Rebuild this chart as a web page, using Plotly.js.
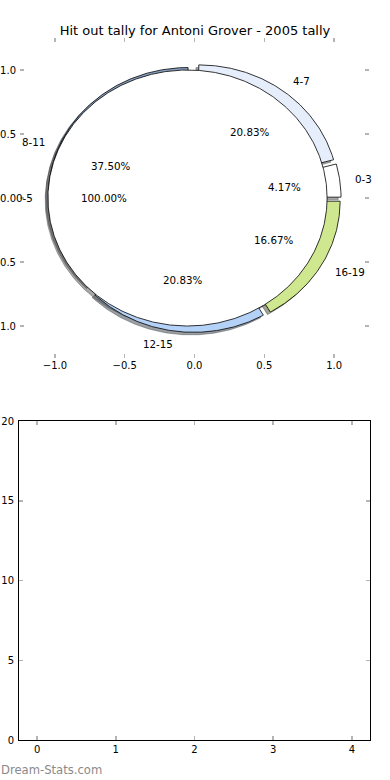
<!DOCTYPE html>
<html><head><meta charset="utf-8">
<script src="https://cdn.plot.ly/plotly-3.0.1.min.js"></script>
<style>html,body{margin:0;padding:0;background:#fff}#chart{width:390px;height:780px}</style>
</head><body><div id="chart"></div>
<script>
// ---- data ----
const ringLabels = ['4-7', '0-3', '16-19', '12-15', '8-11'];
const ringValues = [20.83, 4.17, 16.67, 20.83, 37.50];
const ringColors = ['#e6eefc', '#ffffff', '#cfe890', '#b4d2f8', '#8aa0c0'];
const innerLabels = ['0-5'];
const innerValues = [100.00];
const innerColors = ['#ffffff'];
const pieTicks = [-1, -0.5, 0, 0.5, 1];
const barXTicks = [0, 1, 2, 3, 4];
const barYTicks = [0, 5, 10, 15, 20];
const titleText = 'Hit out tally for Antoni Grover - 2005 tally';
const watermark = 'Dream-Stats.com';

// ---- pie geometry (matplotlib style) ----
function wedges(values, startangle, counterclock, explode) {
  const tot = values.reduce((a, b) => a + b, 0);
  let t = startangle;
  return values.map(v => {
    const span = 360 * v / tot * (counterclock ? 1 : -1);
    const t1 = t, t2 = t + span;
    t = t2;
    const mid = (t1 + t2) / 2 * Math.PI / 180;
    return {t1, t2, mid, cx: explode * Math.cos(mid), cy: explode * Math.sin(mid)};
  });
}
function poly(w, dx, dy) {
  const xs = [], ys = [];
  const full = Math.abs(w.t2 - w.t1) >= 359.999;
  const n = Math.max(8, Math.ceil(Math.abs(w.t2 - w.t1) / 0.5));
  if (!full) { xs.push(w.cx + dx); ys.push(w.cy + dy); }
  for (let i = 0; i <= n; i++) {
    const a = (w.t1 + (w.t2 - w.t1) * i / n) * Math.PI / 180;
    xs.push(w.cx + dx + Math.cos(a)); ys.push(w.cy + dy + Math.sin(a));
  }
  if (!full) { xs.push(w.cx + dx); ys.push(w.cy + dy); }
  return {xs, ys};
}
function shade(hex) {
  const r = parseInt(hex.slice(1, 3), 16), g = parseInt(hex.slice(3, 5), 16), b = parseInt(hex.slice(5, 7), 16);
  return 'rgba(' + Math.round(r * 0.3) + ',' + Math.round(g * 0.3) + ',' + Math.round(b * 0.3) + ',0.5)';
}

const ringW = wedges(ringValues, 90, false, 0.05);
const innerW = wedges(innerValues, 0, true, 0.05);

const traces = [];
function addShadows(ws, cols) {
  ws.forEach((w, i) => {
    const p = poly(w, -0.02, -0.02);
    traces.push({type: 'scatter', mode: 'lines', x: p.xs, y: p.ys, fill: 'toself',
      fillcolor: shade(cols[i]), line: {color: shade(cols[i]), width: 0.8},
      hoverinfo: 'skip', showlegend: false, xaxis: 'x', yaxis: 'y'});
  });
}
function addWedges(ws, cols) {
  ws.forEach((w, i) => {
    const p = poly(w, 0, 0);
    traces.push({type: 'scatter', mode: 'lines', x: p.xs, y: p.ys, fill: 'toself',
      fillcolor: cols[i], line: {color: '#000', width: 0.8},
      hoverinfo: 'skip', showlegend: false, xaxis: 'x', yaxis: 'y'});
  });
}
addShadows(ringW, ringColors);
addShadows(innerW, innerColors);
addWedges(ringW, ringColors);
addWedges(innerW, innerColors);
traces.push({type: 'scatter', x: [], y: [], xaxis: 'x2', yaxis: 'y2', showlegend: false, hoverinfo: 'skip'});

const font = 'DejaVu Sans, sans-serif';
const annotations = [];
function addLabels(ws, labels, values) {
  ws.forEach((w, i) => {
    const lx = w.cx + 1.1 * Math.cos(w.mid), ly = w.cy + 1.1 * Math.sin(w.mid);
    annotations.push({x: lx, y: ly, xref: 'x', yref: 'y', text: labels[i], showarrow: false,
      xanchor: lx > 0 ? 'left' : 'right', yanchor: 'middle', borderpad: 0,
      font: {family: font, size: 10.3, color: '#000'}});
    const px = w.cx + 0.6 * Math.cos(w.mid), py = w.cy + 0.6 * Math.sin(w.mid);
    annotations.push({x: px, y: py, xref: 'x', yref: 'y', text: values[i].toFixed(2) + '%', showarrow: false,
      xanchor: 'center', yanchor: 'middle', borderpad: 0,
      font: {family: font, size: 10.3, color: '#000'}});
  });
}
addLabels(ringW, ringLabels, ringValues);
addLabels(innerW, innerLabels, innerValues);
annotations.push({x: 0, y: 1 - 770 / 780, xref: 'paper', yref: 'paper', text: watermark, showarrow: false,
  xanchor: 'left', yanchor: 'middle', borderpad: 0, font: {family: font, size: 11.6, color: '#8a8a8a'}});

const tickFont = {family: font, size: 10, color: '#000'};
const common = {ticks: 'inside', ticklen: 4, tickwidth: 1.5, tickcolor: '#b4b4b4', showgrid: false,
  zeroline: false, automargin: false, tickfont: tickFont, fixedrange: true};

const layout = {
  width: 390, height: 780,
  margin: {l: 0, r: 0, t: 0, b: 0},
  paper_bgcolor: '#fff', plot_bgcolor: 'rgba(0,0,0,0)',
  showlegend: false,
  title: {text: titleText, x: 0.5, xref: 'paper', xanchor: 'center', y: 1 - 30 / 780, yanchor: 'middle',
    font: {family: font, size: 13, color: '#000'}},
  xaxis: Object.assign({}, common, {domain: [20 / 390, 369 / 390], range: [-1.25, 1.25], anchor: 'y',
    tickvals: pieTicks, tickformat: '.1f', showline: false, mirror: 'ticks'}),
  yaxis: Object.assign({}, common, {domain: [1 - 358 / 780, 1 - 38 / 780], range: [-1.25, 1.25], anchor: 'x',
    tickvals: pieTicks, tickformat: '.1f', showline: false, mirror: 'ticks', ticklabelstandoff: 3}),
  xaxis2: Object.assign({}, common, {domain: [19 / 390, 370 / 390], range: [-0.23, 4.23], anchor: 'y2',
    tickvals: barXTicks, showline: true, linecolor: '#000', linewidth: 1, mirror: 'ticks'}),
  yaxis2: Object.assign({}, common, {domain: [1 - 740 / 780, 1 - 421 / 780], range: [0, 20], anchor: 'x2',
    tickvals: barYTicks, showline: true, linecolor: '#000', linewidth: 1, mirror: 'ticks', ticklabelstandoff: 2}),
  annotations: annotations
};
Plotly.newPlot('chart', traces, layout, {displayModeBar: false, staticPlot: true});
</script></body></html>
